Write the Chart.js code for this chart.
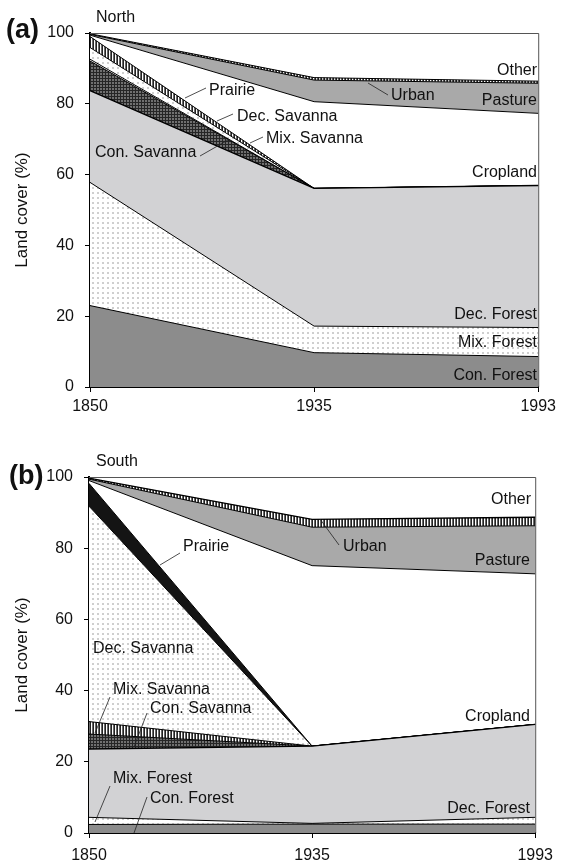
<!DOCTYPE html>
<html>
<head>
<meta charset="utf-8">
<script src="https://cdn.jsdelivr.net/npm/chart.js@4.4.0/dist/chart.umd.min.js"></script>
<style>
  html, body { margin: 0; padding: 0; background: #fff; }
  .panel { position: relative; width: 561px; height: 431px; }
</style>
</head>
<body>
<div class="panel"><canvas id="north" width="561" height="431"></canvas></div>
<div class="panel"><canvas id="south" width="561" height="431"></canvas></div>
<script>
// categories + ticks
const years = ['1850', '1935', '1993'];
const yTicks = [0, 20, 40, 60, 80, 100];

// North (a), % of land cover per class, bottom -> top
const northConForest = [23.0, 9.7, 8.6];
const northMixForest = [34.8, 7.5, 8.2];
const northDecForest = [25.9, 38.9, 40.1];
const northConSavanna = [8.4, 0, 0];
const northMixSavanna = [0.5, 0, 0];
const northDecSavanna = [3.3, 0, 0];
const northPrairie = [3.1, 0, 0];
const northCropland = [0.4, 24.5, 20.4];
const northPasture = [0.2, 6.1, 8.5];
const northUrban = [0.2, 0.7, 0.6];
const northOther = [0.2, 12.6, 13.6];

// South (b)
const southConForest = [2.4, 2.5, 2.5];
const southMixForest = [2.0, 0.2, 1.9];
const southDecForest = [19.2, 21.7, 26.1];
const southConSavanna = [4.2, 0, 0];
const southMixSavanna = [3.5, 0, 0];
const southDecSavanna = [60.5, 0, 0];
const southPrairie = [6.4, 0, 0];
const southCropland = [0.8, 50.7, 42.3];
const southPasture = [0.4, 10.8, 13.5];
const southUrban = [0.3, 2.2, 2.4];
const southOther = [0.3, 11.9, 11.3];

const FONT = '"Liberation Sans", Arial, Helvetica, sans-serif';

// fill patterns
function makePattern(w, h, draw) {
    const c = document.createElement('canvas');
    c.width = w; c.height = h;
    const g = c.getContext('2d');
    draw(g);
    return g.createPattern(c, 'repeat');
}
const dots = makePattern(5, 5, g => {
    g.fillStyle = '#fff'; g.fillRect(0, 0, 5, 5);
    g.fillStyle = '#cfcfcf'; g.fillRect(2, 2, 2, 2);
});
const stripes = makePattern(3, 1, g => {
    g.fillStyle = '#fff'; g.fillRect(0, 0, 3, 1);
    g.fillStyle = '#222'; g.fillRect(0, 0, 1, 1);
    g.fillStyle = '#6a6a6a'; g.fillRect(2, 0, 1, 1);
});
const hatch = makePattern(3, 3, g => {
    g.fillStyle = '#707070'; g.fillRect(0, 0, 3, 3);
    g.fillStyle = '#262626'; g.fillRect(0, 0, 3, 1); g.fillRect(0, 0, 1, 3);
});

function area(label, data, bg, idx, bw) {
    return {
        label: label,
        data: data,
        backgroundColor: bg,
        borderColor: '#000',
        borderWidth: bw || 1,
        fill: idx === 0 ? 'origin' : '-1',
        pointRadius: 0,
        tension: 0
    };
}

// custom plugin: frame, panel titles, axis title, in-plot labels + leaders
const annotPlugin = {
    id: 'annot',
    afterDraw(chart, args, opts) {
        const ctx = chart.ctx, a = chart.chartArea;
        ctx.save();
        ctx.strokeStyle = '#555';
        ctx.lineWidth = 1;
        ctx.beginPath();
        ctx.moveTo(a.left, a.top + 0.5);
        ctx.lineTo(a.right + 0.5, a.top + 0.5);
        ctx.lineTo(a.right + 0.5, a.bottom);
        ctx.stroke();

        ctx.fillStyle = '#111';
        ctx.textBaseline = 'middle';
        ctx.textAlign = 'left';
        ctx.font = 'bold 27px ' + FONT;
        ctx.fillText(opts.letter, opts.letterX, opts.letterY);
        ctx.font = '16px ' + FONT;
        ctx.fillText(opts.title, opts.titleX, opts.titleY);

        ctx.save();
        ctx.font = '17px ' + FONT;
        ctx.translate(22, (a.top + a.bottom) / 2);
        ctx.rotate(-Math.PI / 2);
        ctx.textAlign = 'center';
        ctx.fillText('Land cover (%)', 0, 0);
        ctx.restore();

        opts.labels.forEach(l => {
            ctx.textAlign = l.align || 'left';
            ctx.fillText(l.text, l.x, l.y);
            if (l.lead) {
                ctx.beginPath();
                ctx.lineWidth = 0.8;
                ctx.strokeStyle = '#222';
                ctx.moveTo(l.lead[0], l.lead[1]);
                ctx.lineTo(l.lead[2], l.lead[3]);
                ctx.stroke();
            }
        });
        ctx.restore();
    }
};

function makeChart(id, series, box, annot) {
    const ctx = document.getElementById(id).getContext('2d');
    const datasets = series.map((s, i) => area(s[0], s[1], s[2], i, s[3]));
    return new Chart(ctx, {
        type: 'line',
        data: { labels: years, datasets: datasets },
        options: {
            responsive: false,
            animation: false,
            layout: { padding: { top: box.top, right: box.right, bottom: 0, left: 0 } },
            plugins: {
                legend: { display: false },
                tooltip: { enabled: false },
                annot: annot
            },
            scales: {
                x: {
                    type: 'category',
                    offset: false,
                    grid: { display: true, drawOnChartArea: false, drawTicks: true, tickLength: 5, color: '#000' },
                    border: { display: true, color: '#000', width: 2 },
                    ticks: { color: '#111', font: { family: FONT, size: 16 }, padding: box.xPad, maxRotation: 0, autoSkip: false },
                    afterFit(scale) { scale.height = box.xHeight; }
                },
                y: {
                    stacked: true,
                    min: 0,
                    max: 100,
                    grid: { display: true, drawOnChartArea: false, drawTicks: true, tickLength: 5, color: '#000' },
                    border: { display: true, color: '#000', width: 2 },
                    ticks: { color: '#111', font: { family: FONT, size: 16 }, padding: 11 },
                    afterBuildTicks(scale) { scale.ticks = yTicks.map(v => ({ value: v })); },
                    afterFit(scale) { scale.width = box.left; }
                }
            }
        },
        plugins: [annotPlugin]
    });
}

makeChart('north', [
    ['Con. Forest', northConForest, '#8c8c8c'],
    ['Mix. Forest', northMixForest, dots],
    ['Dec. Forest', northDecForest, '#d2d2d4', 1.4],
    ['Con. Savanna', northConSavanna, hatch],
    ['Mix. Savanna', northMixSavanna, '#fff'],
    ['Dec. Savanna', northDecSavanna, dots],
    ['Prairie', northPrairie, stripes],
    ['Cropland', northCropland, '#fff'],
    ['Pasture', northPasture, '#a9a9a9'],
    ['Urban', northUrban, stripes],
    ['Other', northOther, '#fff']
], { top: 33, right: 21, left: 90, xHeight: 44, xPad: 5 }, {
    letter: '(a)', letterX: 6, letterY: 31,
    title: 'North', titleX: 96, titleY: 18,
    labels: [
        { text: 'Other', x: 537, y: 71, align: 'right' },
        { text: 'Urban', x: 391, y: 96, lead: [368, 83, 388, 95] },
        { text: 'Pasture', x: 537, y: 101, align: 'right' },
        { text: 'Cropland', x: 537, y: 173, align: 'right' },
        { text: 'Dec. Forest', x: 537, y: 315, align: 'right' },
        { text: 'Mix. Forest', x: 537, y: 343, align: 'right' },
        { text: 'Con. Forest', x: 537, y: 376, align: 'right' },
        { text: 'Prairie', x: 209, y: 91, lead: [185, 98, 206, 88] },
        { text: 'Dec. Savanna', x: 237, y: 117, lead: [217, 121, 233, 114] },
        { text: 'Mix. Savanna', x: 266, y: 139, lead: [250, 143, 263, 137] },
        { text: 'Con. Savanna', x: 95, y: 153, lead: [200, 156, 228, 140] }
    ]
});

makeChart('south', [
    ['Con. Forest', southConForest, '#8c8c8c'],
    ['Mix. Forest', southMixForest, dots],
    ['Dec. Forest', southDecForest, '#d2d2d4', 1.4],
    ['Con. Savanna', southConSavanna, hatch],
    ['Mix. Savanna', southMixSavanna, stripes],
    ['Dec. Savanna', southDecSavanna, dots],
    ['Prairie', southPrairie, '#141414'],
    ['Cropland', southCropland, '#fff'],
    ['Pasture', southPasture, '#a9a9a9'],
    ['Urban', southUrban, stripes, 1.4],
    ['Other', southOther, '#fff']
], { top: 46, right: 23, left: 89, xHeight: 29, xPad: 8 }, {
    letter: '(b)', letterX: 9, letterY: 46,
    title: 'South', titleX: 96, titleY: 31,
    labels: [
        { text: 'Other', x: 531, y: 69, align: 'right' },
        { text: 'Urban', x: 343, y: 116, lead: [320, 88, 339, 114] },
        { text: 'Pasture', x: 530, y: 130, align: 'right' },
        { text: 'Cropland', x: 530, y: 286, align: 'right' },
        { text: 'Dec. Forest', x: 530, y: 378, align: 'right' },
        { text: 'Prairie', x: 183, y: 116, lead: [160, 134, 180, 122] },
        { text: 'Dec. Savanna', x: 93, y: 218 },
        { text: 'Mix. Savanna', x: 113, y: 259, lead: [95, 302, 110, 266] },
        { text: 'Con. Savanna', x: 150, y: 278, lead: [134, 316, 147, 282] },
        { text: 'Mix. Forest', x: 113, y: 348, lead: [95, 391, 110, 355] },
        { text: 'Con. Forest', x: 150, y: 368, lead: [134, 402, 147, 366] }
    ]
});
</script>
</body>
</html>
